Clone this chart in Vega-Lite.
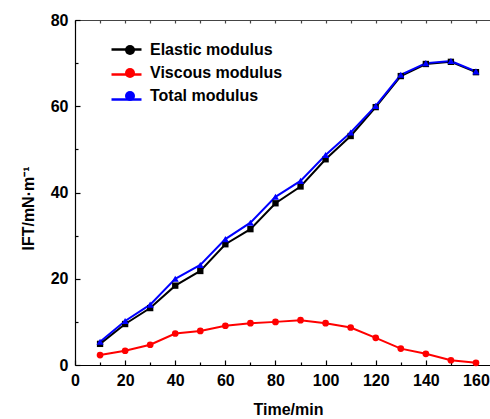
{
  "$schema": "https://vega.github.io/schema/vega-lite/v6.json",
  "width": 416,
  "height": 345,
  "autosize": "none",
  "padding": {"left": 75, "top": 20, "right": 0, "bottom": 54},
  "background": "white",
  "config": {
    "view": {"stroke": null},
    "font": "Liberation Sans",
    "axis": {"grid": false, "labelFont": "Liberation Sans", "titleFont": "Liberation Sans", "labelFontWeight": "bold", "labelFontSize": 16, "titleFontWeight": "bold", "titleFontSize": 16, "labelColor": "black", "titleColor": "black", "domainColor": "black", "tickColor": "black", "domainWidth": 1.2, "tickWidth": 1.2},
    "legend": {"labelFont": "Liberation Sans", "labelFontWeight": "bold", "labelFontSize": 16, "labelColor": "black"}
  },
  "data": {
    "values": [
      {"t": 10, "series": "Elastic modulus", "v": 4.9},
      {"t": 20, "series": "Elastic modulus", "v": 9.5},
      {"t": 30, "series": "Elastic modulus", "v": 13.2},
      {"t": 40, "series": "Elastic modulus", "v": 18.4},
      {"t": 50, "series": "Elastic modulus", "v": 21.8},
      {"t": 60, "series": "Elastic modulus", "v": 28.0},
      {"t": 70, "series": "Elastic modulus", "v": 31.5},
      {"t": 80, "series": "Elastic modulus", "v": 37.5},
      {"t": 90, "series": "Elastic modulus", "v": 41.4},
      {"t": 100, "series": "Elastic modulus", "v": 47.7},
      {"t": 110, "series": "Elastic modulus", "v": 53.1},
      {"t": 120, "series": "Elastic modulus", "v": 59.8},
      {"t": 130, "series": "Elastic modulus", "v": 67.0},
      {"t": 140, "series": "Elastic modulus", "v": 69.8},
      {"t": 150, "series": "Elastic modulus", "v": 70.3},
      {"t": 160, "series": "Elastic modulus", "v": 67.9},
      {"t": 10, "series": "Viscous modulus", "v": 2.3},
      {"t": 20, "series": "Viscous modulus", "v": 3.3},
      {"t": 30, "series": "Viscous modulus", "v": 4.7},
      {"t": 40, "series": "Viscous modulus", "v": 7.3},
      {"t": 50, "series": "Viscous modulus", "v": 7.9},
      {"t": 60, "series": "Viscous modulus", "v": 9.1},
      {"t": 70, "series": "Viscous modulus", "v": 9.7},
      {"t": 80, "series": "Viscous modulus", "v": 10.0},
      {"t": 90, "series": "Viscous modulus", "v": 10.4},
      {"t": 100, "series": "Viscous modulus", "v": 9.7},
      {"t": 110, "series": "Viscous modulus", "v": 8.7},
      {"t": 120, "series": "Viscous modulus", "v": 6.3},
      {"t": 130, "series": "Viscous modulus", "v": 3.8},
      {"t": 140, "series": "Viscous modulus", "v": 2.6},
      {"t": 150, "series": "Viscous modulus", "v": 1.1},
      {"t": 160, "series": "Viscous modulus", "v": 0.5},
      {"t": 10, "series": "Total modulus", "v": 5.4},
      {"t": 20, "series": "Total modulus", "v": 10.2},
      {"t": 30, "series": "Total modulus", "v": 14.0},
      {"t": 40, "series": "Total modulus", "v": 20.0},
      {"t": 50, "series": "Total modulus", "v": 23.2},
      {"t": 60, "series": "Total modulus", "v": 29.2},
      {"t": 70, "series": "Total modulus", "v": 33.0},
      {"t": 80, "series": "Total modulus", "v": 39.0},
      {"t": 90, "series": "Total modulus", "v": 42.7},
      {"t": 100, "series": "Total modulus", "v": 48.7},
      {"t": 110, "series": "Total modulus", "v": 53.9},
      {"t": 120, "series": "Total modulus", "v": 60.1},
      {"t": 130, "series": "Total modulus", "v": 67.3},
      {"t": 140, "series": "Total modulus", "v": 70.0},
      {"t": 150, "series": "Total modulus", "v": 70.5},
      {"t": 160, "series": "Total modulus", "v": 68.1}
    ]
  },
  "resolve": {"axis": {"x": "independent"}, "legend": {"color": "independent"}},
  "layer": [
    {
      "mark": {"type": "line", "strokeWidth": 2},
      "encoding": {
        "x": {
          "field": "t", "type": "quantitative",
          "scale": {"domain": [0, 166], "nice": false, "zero": false},
          "axis": {
            "orient": "bottom", "title": "Time/min",
            "values": [0, 10, 20, 30, 40, 50, 60, 70, 80, 90, 100, 110, 120, 130, 140, 150, 160],
            "labelExpr": "datum.value % 20 == 0 ? datum.label : ''",
            "tickSize": {"condition": {"test": "datum.value % 20 == 0", "value": -5}, "value": -3},
            "labelPadding": 12,
            "labelFlush": false,
            "titleX": 213,
            "titlePadding": 13
          }
        },
        "y": {
          "field": "v", "type": "quantitative",
          "scale": {"domain": [0, 80], "nice": false},
          "axis": {
            "title": "IFT/mN·m⁻¹",
            "values": [0, 10, 20, 30, 40, 50, 60, 70, 80],
            "labelExpr": "datum.value % 20 == 0 ? datum.label : ''",
            "tickSize": {"condition": {"test": "datum.value % 20 == 0", "value": -5}, "value": -3},
            "labelPadding": 12,
            "labelFlush": false,
            "titleY": 188,
            "titlePadding": 14
          }
        },
        "color": {
          "field": "series", "type": "nominal",
          "scale": {"domain": ["Elastic modulus", "Viscous modulus", "Total modulus"], "range": ["#000000", "#ff0000", "#0000ff"]},
          "legend": {
            "title": null, "orient": "none", "legendX": 35, "legendY": 13, "padding": 0,
            "symbolType": "stroke", "symbolSize": 900, "symbolStrokeWidth": 2.5,
            "labelExpr": "''", "labelOffset": 0, "rowPadding": 0
          }
        }
      }
    },
    {
      "mark": {"type": "point", "filled": true, "opacity": 1},
      "encoding": {
        "x": {
          "field": "t", "type": "quantitative",
          "scale": {"domain": [0, 166], "nice": false, "zero": false},
          "axis": {
            "orient": "top", "title": null, "labels": false,
            "values": [0, 10, 20, 30, 40, 50, 60, 70, 80, 90, 100, 110, 120, 130, 140, 150, 160],
            "tickSize": -3, "domainColor": "#444444", "tickColor": "#444444"
          }
        },
        "y": {"field": "v", "type": "quantitative", "scale": {"domain": [0, 80], "nice": false}},
        "color": {
          "field": "series", "type": "nominal",
          "scale": {"domain": ["Elastic modulus", "Viscous modulus", "Total modulus"], "range": ["#000000", "#ff0000", "#0000ff"]},
          "legend": {
            "title": null, "orient": "none", "legendX": 47, "legendY": 22, "padding": 0,
            "labelOffset": 12, "rowPadding": 7
          }
        },
        "shape": {
          "field": "series", "type": "nominal",
          "scale": {"domain": ["Elastic modulus", "Viscous modulus", "Total modulus"], "range": ["square", "circle", "triangle-up"]},
          "legend": null
        },
        "size": {
          "field": "series", "type": "nominal",
          "scale": {"domain": ["Elastic modulus", "Viscous modulus", "Total modulus"], "range": [40, 50, 85]},
          "legend": null
        }
      }
    }
  ]
}
